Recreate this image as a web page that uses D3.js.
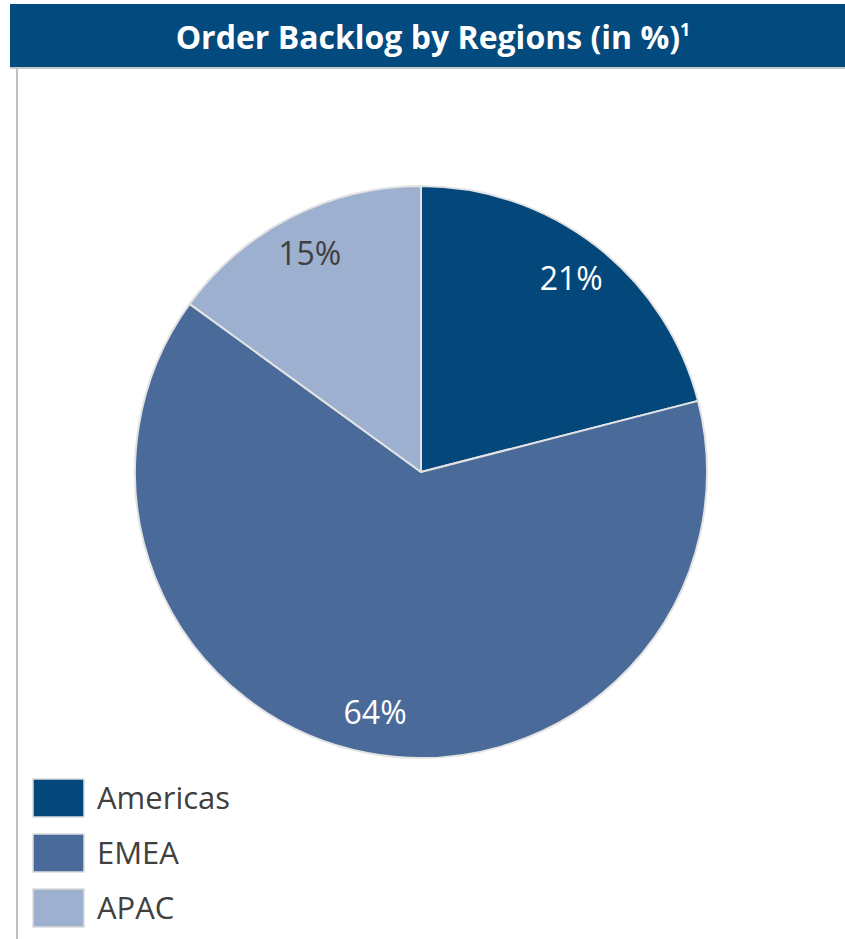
<!DOCTYPE html>
<html><head><meta charset="utf-8">
<script src="https://cdn.jsdelivr.net/npm/d3@7"></script>
<style>body{margin:0;background:#fff;}svg{display:block;}</style>
</head><body>
<script>
const categories = ["Americas", "EMEA", "APAC"];
const values = [21, 64, 15];
const labels = ["21%", "64%", "15%"];
const colors = ["#03477b", "#4a6b9a", "#9db0cf"];
const labelColors = ["#ffffff", "#ffffff", "#404040"];

const W = 845, H = 939;
const svg = d3.select("body").append("svg").attr("width", W).attr("height", H);
const font = "'Open Sans', 'DejaVu Sans', sans-serif";

// frame
svg.append("line").attr("x1", 17).attr("x2", 17).attr("y1", 66).attr("y2", H).attr("stroke", "#bfbfbf").attr("stroke-width", 2);
svg.append("rect").attr("x", 10).attr("y", 4).attr("width", W - 10).attr("height", 63).attr("fill", "#034a7e");
svg.append("line").attr("x1", 10).attr("x2", W).attr("y1", 68).attr("y2", 68).attr("stroke", "#c8c8c8").attr("stroke-width", 2);
const t = svg.append("text").attr("x", 433).attr("y", 49).attr("text-anchor", "middle")
  .attr("fill", "#fff").attr("font-family", font).attr("font-weight", "bold").attr("font-size", 32);
t.append("tspan").text("Order Backlog by Regions (in %)");
t.append("tspan").attr("font-size", 18).attr("dy", -13).text("1");

const cx = 421, cy = 472, R = 286;
const pie = d3.pie().sort(null).value(d => d)(values);
const arc = d3.arc().innerRadius(0).outerRadius(R);
const labelArc = d3.arc().innerRadius(245).outerRadius(245);
const g = svg.append("g").attr("transform", `translate(${cx},${cy})`);
g.selectAll("path").data(pie).join("path")
  .attr("d", arc).attr("fill", (d, i) => colors[i])
  .attr("stroke", "#e3e3e3").attr("stroke-width", 2).attr("stroke-linejoin", "round");
g.selectAll("text").data(pie).join("text")
  .attr("transform", d => `translate(${labelArc.centroid(d)})`)
  .attr("text-anchor", "middle").attr("dy", "0.35em")
  .attr("fill", (d, i) => labelColors[i])
  .attr("font-family", font).attr("font-size", 32)
  .text((d, i) => labels[i]);

// legend
const lg = svg.append("g");
const leg = lg.selectAll("g").data(categories).join("g")
  .attr("transform", (d, i) => `translate(33, ${779 + i * 55})`);
leg.append("rect").attr("width", 51).attr("height", 38)
  .attr("fill", (d, i) => colors[i]).attr("stroke", "#dcdcdc").attr("stroke-width", 1.5);
leg.append("text").attr("x", 64).attr("y", 19).attr("dy", "0.35em")
  .attr("fill", "#404040").attr("font-family", font).attr("font-size", 31).text(d => d);
</script>
</body></html>
